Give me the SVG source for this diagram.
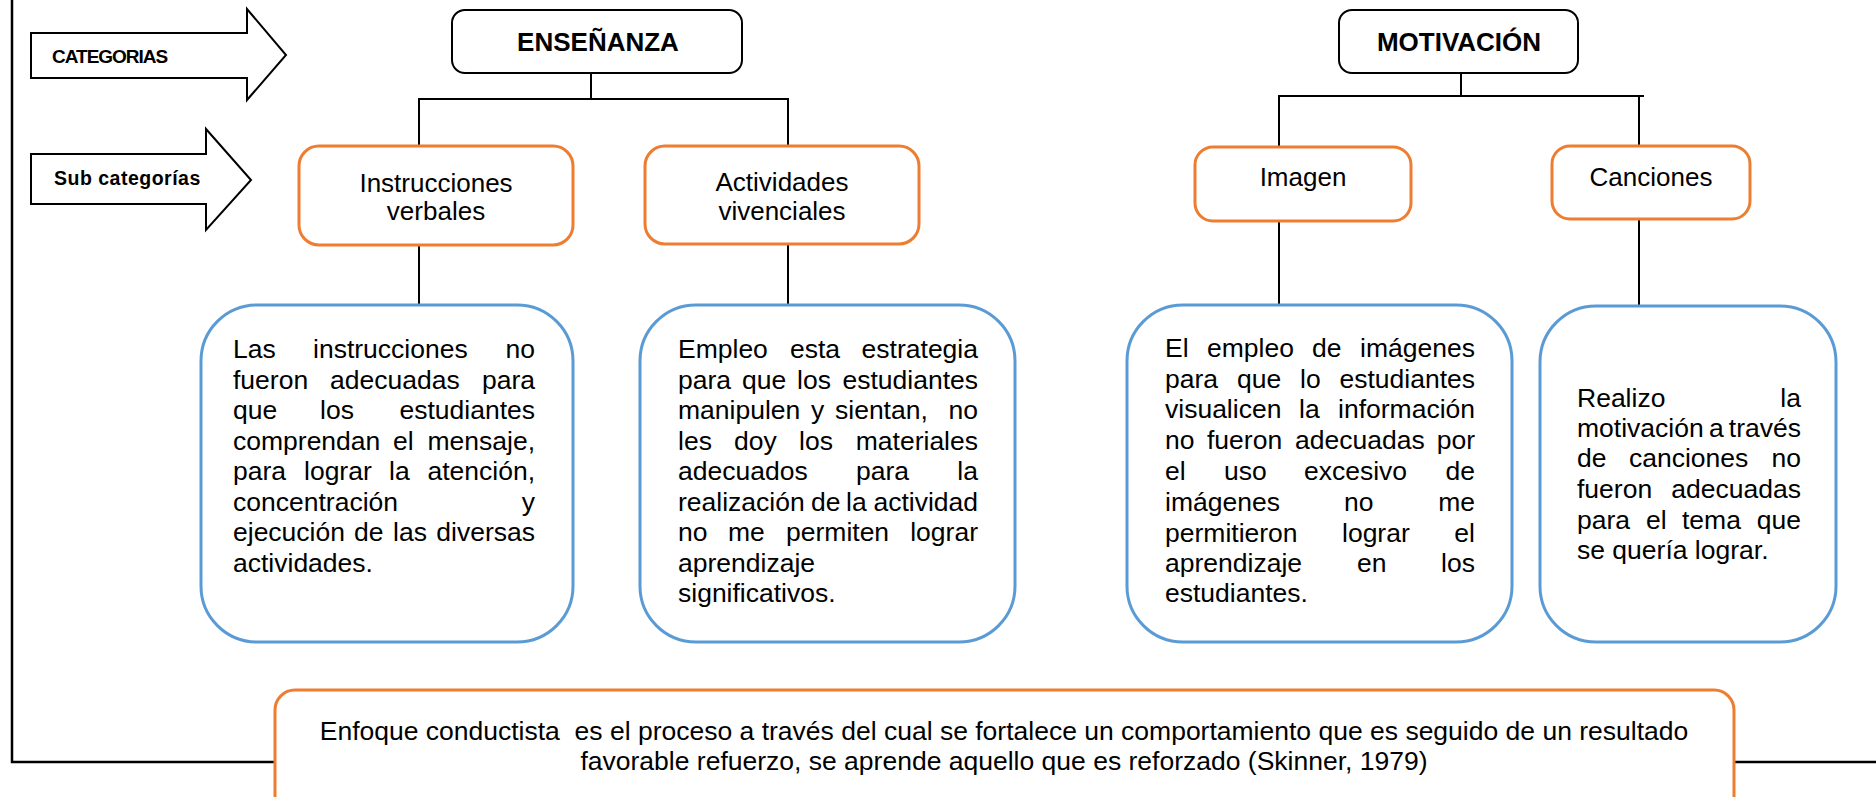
<svg xmlns="http://www.w3.org/2000/svg" width="1876" height="797" viewBox="0 0 1876 797">
<style>
text{font-family:"Liberation Sans",Arial,sans-serif;fill:#000}
.arrow{fill:#fff;stroke:#000;stroke-width:2;stroke-linejoin:miter}
.cat{fill:#fff;stroke:#000;stroke-width:2}
.sub{fill:#fff;stroke:#ED7D31;stroke-width:3}
.desc{fill:#fff;stroke:#5B9BD5;stroke-width:3}
.conn{stroke:#000;stroke-width:2;fill:none}
.h{font-size:26px;font-weight:bold}
.lbl{font-size:26px}
.body{font-size:26.5px}
.mid{text-anchor:middle}
.end{text-anchor:end}
</style>
<g id="frame">
<polyline points="12,0 12,762 1876,762" fill="none" stroke="#000" stroke-width="2.5"/>
</g>
<g id="arrow-categorias">
<polygon class="arrow" points="31,33 247,33 247,9 286,55 247,100 247,78 31,78"/>
<text x="52" y="63" style="font-size:19px;font-weight:bold;letter-spacing:-1px">CATEGORIAS</text>
</g>
<g id="arrow-subcategorias">
<polygon class="arrow" points="31,154 206,154 206,129 251,180 206,230 206,204 31,204"/>
<text x="54" y="185" style="font-size:19.5px;font-weight:bold;letter-spacing:0.5px">Sub categorías</text>
</g>
<g id="connectors">
<polyline class="conn" points="591,73 591,99"/>
<polyline class="conn" points="419,146 419,99 788,99 788,146"/>
<line class="conn" x1="419" y1="245" x2="419" y2="305"/>
<line class="conn" x1="788" y1="244" x2="788" y2="305"/>
<polyline class="conn" points="1461,73 1461,96"/>
<polyline class="conn" points="1279,147 1279,96 1644,96"/>
<line class="conn" x1="1639" y1="96" x2="1639" y2="146"/>
<line class="conn" x1="1279" y1="221" x2="1279" y2="305"/>
<line class="conn" x1="1639" y1="219" x2="1639" y2="306"/>
</g>
<g id="node-ensenanza">
<rect class="cat" x="452" y="10" width="290" height="63" rx="13"/>
<text class="h mid" x="598" y="51">ENSEÑANZA</text>
</g>
<g id="node-motivacion">
<rect class="cat" x="1339" y="10" width="239" height="63" rx="13"/>
<text class="h mid" x="1459" y="51">MOTIVACIÓN</text>
</g>
<g id="node-instrucciones">
<rect class="sub" x="299" y="146" width="274" height="99" rx="20"/>
<text class="lbl mid" x="436" y="192">Instrucciones</text>
<text class="lbl mid" x="436" y="220">verbales</text>
</g>
<g id="node-actividades">
<rect class="sub" x="645" y="146" width="274" height="98" rx="20"/>
<text class="lbl mid" x="782" y="191">Actividades</text>
<text class="lbl mid" x="782" y="220">vivenciales</text>
</g>
<g id="node-imagen">
<rect class="sub" x="1195" y="147" width="216" height="74" rx="18"/>
<text class="lbl mid" x="1303" y="186">Imagen</text>
</g>
<g id="node-canciones">
<rect class="sub" x="1552" y="146" width="198" height="73" rx="18"/>
<text class="lbl mid" x="1651" y="186">Canciones</text>
</g>
<g id="desc-instrucciones">
<rect class="desc" x="201" y="305" width="372" height="337" rx="56"/>
<text class="body" y="358"><tspan x="233">Las</tspan><tspan x="313">instrucciones</tspan><tspan x="535" class="end">no</tspan></text>
<text class="body" y="389"><tspan x="233">fueron</tspan><tspan x="330">adecuadas</tspan><tspan x="535" class="end">para</tspan></text>
<text class="body" y="419"><tspan x="233">que</tspan><tspan x="320">los</tspan><tspan x="535" class="end">estudiantes</tspan></text>
<text class="body" y="450"><tspan x="233">comprendan</tspan><tspan x="393">el</tspan><tspan x="535" class="end">mensaje,</tspan></text>
<text class="body" y="480"><tspan x="233">para</tspan><tspan x="304">lograr</tspan><tspan x="389">la</tspan><tspan x="535" class="end">atención,</tspan></text>
<text class="body" y="511"><tspan x="233">concentración</tspan><tspan x="535" class="end">y</tspan></text>
<text class="body" y="541"><tspan x="233">ejecución</tspan><tspan x="354">de</tspan><tspan x="393">las</tspan><tspan x="535" class="end">diversas</tspan></text>
<text class="body" x="233" y="572">actividades.</text>
</g>
<g id="desc-actividades">
<rect class="desc" x="640" y="305" width="375" height="337" rx="56"/>
<text class="body" y="358"><tspan x="678">Empleo</tspan><tspan x="790">esta</tspan><tspan x="978" class="end">estrategia</tspan></text>
<text class="body" y="389"><tspan x="678">para</tspan><tspan x="742">que</tspan><tspan x="797">los</tspan><tspan x="978" class="end">estudiantes</tspan></text>
<text class="body" y="419"><tspan x="678">manipulen</tspan><tspan x="811">y</tspan><tspan x="835">sientan,</tspan><tspan x="978" class="end">no</tspan></text>
<text class="body" y="450"><tspan x="678">les</tspan><tspan x="734">doy</tspan><tspan x="799">los</tspan><tspan x="978" class="end">materiales</tspan></text>
<text class="body" y="480"><tspan x="678">adecuados</tspan><tspan x="856">para</tspan><tspan x="978" class="end">la</tspan></text>
<text class="body" y="511"><tspan x="678">realización</tspan><tspan x="811">de</tspan><tspan x="846">la</tspan><tspan x="978" class="end">actividad</tspan></text>
<text class="body" y="541"><tspan x="678">no</tspan><tspan x="728">me</tspan><tspan x="786">permiten</tspan><tspan x="978" class="end">lograr</tspan></text>
<text class="body" x="678" y="572">aprendizaje</text>
<text class="body" x="678" y="602">significativos.</text>
</g>
<g id="desc-imagen">
<rect class="desc" x="1127" y="305" width="385" height="337" rx="56"/>
<text class="body" y="357"><tspan x="1165">El</tspan><tspan x="1207">empleo</tspan><tspan x="1312">de</tspan><tspan x="1475" class="end">imágenes</tspan></text>
<text class="body" y="388"><tspan x="1165">para</tspan><tspan x="1237">que</tspan><tspan x="1300">lo</tspan><tspan x="1475" class="end">estudiantes</tspan></text>
<text class="body" y="418"><tspan x="1165">visualicen</tspan><tspan x="1299">la</tspan><tspan x="1475" class="end">información</tspan></text>
<text class="body" y="449"><tspan x="1165">no</tspan><tspan x="1207">fueron</tspan><tspan x="1295">adecuadas</tspan><tspan x="1475" class="end">por</tspan></text>
<text class="body" y="480"><tspan x="1165">el</tspan><tspan x="1224">uso</tspan><tspan x="1304">excesivo</tspan><tspan x="1475" class="end">de</tspan></text>
<text class="body" y="511"><tspan x="1165">imágenes</tspan><tspan x="1344">no</tspan><tspan x="1475" class="end">me</tspan></text>
<text class="body" y="542"><tspan x="1165">permitieron</tspan><tspan x="1342">lograr</tspan><tspan x="1475" class="end">el</tspan></text>
<text class="body" y="572"><tspan x="1165">aprendizaje</tspan><tspan x="1357">en</tspan><tspan x="1475" class="end">los</tspan></text>
<text class="body" x="1165" y="602">estudiantes.</text>
</g>
<g id="desc-canciones">
<rect class="desc" x="1540" y="306" width="296" height="336" rx="56"/>
<text class="body" y="407"><tspan x="1577">Realizo</tspan><tspan x="1801" class="end">la</tspan></text>
<text class="body" y="437"><tspan x="1577">motivación</tspan><tspan x="1709">a</tspan><tspan x="1801" class="end">través</tspan></text>
<text class="body" y="467"><tspan x="1577">de</tspan><tspan x="1629">canciones</tspan><tspan x="1801" class="end">no</tspan></text>
<text class="body" y="498"><tspan x="1577">fueron</tspan><tspan x="1801" class="end">adecuadas</tspan></text>
<text class="body" y="529"><tspan x="1577">para</tspan><tspan x="1646">el</tspan><tspan x="1682">tema</tspan><tspan x="1801" class="end">que</tspan></text>
<text class="body" x="1577" y="559">se quería lograr.</text>
</g>
<g id="node-enfoque">
<rect class="sub" x="275" y="690" width="1459" height="140" rx="20"/>
<text class="body mid" x="1004" y="740" xml:space="preserve">Enfoque conductista  es el proceso a través del cual se fortalece un comportamiento que es seguido de un resultado</text>
<text class="body mid" x="1004" y="770">favorable refuerzo, se aprende aquello que es reforzado (Skinner, 1979)</text>
</g>
</svg>
